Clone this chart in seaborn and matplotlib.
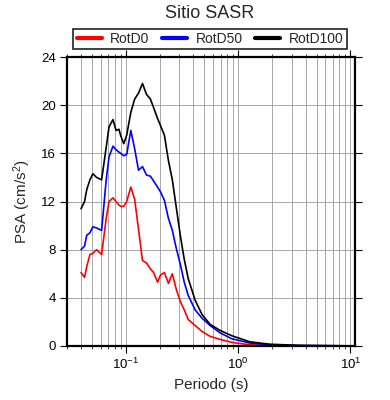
import numpy as np
import pandas as pd
import seaborn as sns
import matplotlib
matplotlib.use("Agg")
import matplotlib.pyplot as plt
from matplotlib.ticker import LogLocator, FixedLocator, NullFormatter

periods = [0.040, 0.043, 0.045, 0.048, 0.051, 0.055, 0.061, 0.067, 0.071, 0.077,
           0.082, 0.087, 0.090, 0.096, 0.102, 0.111, 0.120, 0.130, 0.141, 0.153,
           0.166, 0.177, 0.192, 0.204, 0.221, 0.240, 0.260, 0.282, 0.306, 0.332,
           0.360, 0.415, 0.479, 0.564, 0.690, 0.881, 1.27, 1.91, 3.52, 7.93, 10.0]

rotd0 = [6.1, 5.7, 6.6, 7.6, 7.7, 8.0, 7.6, 10.6, 12.0, 12.3,
         12.0, 11.7, 11.6, 11.6, 12.0, 13.2, 12.2, 9.7, 7.1, 6.9,
         6.4, 6.1, 5.3, 5.9, 6.1, 5.2, 6.0, 4.7, 3.7, 3.0,
         2.2, 1.7, 1.2, 0.8, 0.55, 0.3, 0.1, 0.05, 0.02, 0.01, 0.01]

rotd50 = [8.0, 8.3, 9.2, 9.4, 9.9, 9.8, 9.6, 13.8, 15.7, 16.6,
          16.3, 16.1, 16.0, 15.8, 15.9, 17.9, 16.4, 14.6, 14.9, 14.2,
          14.1, 13.7, 13.2, 12.8, 12.1, 10.6, 9.6, 8.1, 6.8, 5.3,
          4.2, 3.0, 2.3, 1.7, 1.1, 0.6, 0.25, 0.1, 0.04, 0.02, 0.01]

rotd100 = [11.4, 12.0, 13.0, 13.8, 14.3, 14.0, 13.8, 16.5, 18.2, 18.8,
           17.9, 18.0, 17.5, 16.8, 17.5, 19.4, 20.5, 21.0, 21.8, 20.9,
           20.5, 19.8, 18.9, 18.3, 17.5, 15.4, 13.8, 11.5, 9.2, 7.2,
           5.6, 3.8, 2.6, 1.8, 1.3, 0.85, 0.35, 0.15, 0.05, 0.02, 0.01]

series_names = ["RotD0", "RotD50", "RotD100"]
colors = ["#ff0000", "#0000ff", "#000000"]
yticks = [0, 4, 8, 12, 16, 20, 24]

df = pd.concat([
    pd.DataFrame({"Periodo": periods, "PSA": vals, "Serie": name})
    for name, vals in zip(series_names, [rotd0, rotd50, rotd100])
], ignore_index=True)

sns.set_style("white")
plt.rcParams["font.family"] = ["Liberation Sans", "DejaVu Sans"]
plt.rcParams["mathtext.fontset"] = "custom"
plt.rcParams["mathtext.rm"] = "Liberation Sans"
plt.rcParams["mathtext.it"] = "Liberation Sans:italic"

fig = plt.figure(figsize=(3.9, 4.0), dpi=100)
ax = fig.add_axes([67/390, 54/400, (355-67)/390, (346-57)/400])

sns.lineplot(data=df, x="Periodo", y="PSA", hue="Serie", palette=colors,
             hue_order=series_names, ax=ax, linewidth=1.2, legend=False,
             estimator=None, sort=False)

ax.set_xscale("log")
ax.set_xlim(0.03, 11)
ax.set_ylim(0, 24)
ax.yaxis.set_major_locator(FixedLocator(yticks))
ax.xaxis.set_major_locator(LogLocator(base=10, numticks=10))
ax.xaxis.set_minor_locator(LogLocator(base=10, subs=np.arange(2, 10), numticks=20))
ax.xaxis.set_minor_formatter(NullFormatter())

ax.grid(True, which="both", axis="x", color="#9a9a9a", linewidth=0.6)
ax.grid(True, which="major", axis="y", color="#9a9a9a", linewidth=0.6)
ax.set_axisbelow(True)

for s in ax.spines.values():
    s.set_color("black")
    s.set_linewidth(1.6)

ax.tick_params(axis="both", which="major", direction="out", length=5, width=0.8,
               left=True, bottom=True, top=True, right=True,
               labelsize=9.5, colors="black", pad=3)
ax.tick_params(axis="x", which="minor", direction="out", length=2.5, width=0.6,
               top=True, bottom=True)

ax.set_xlabel("Periodo (s)", fontsize=11, labelpad=4)
ax.set_ylabel("PSA (cm/s$^2$)", fontsize=11, labelpad=6)

handles = [plt.Line2D([], [], color=c, linewidth=3) for c in colors]
leg = fig.legend(handles, series_names, loc="center", ncol=3,
                 bbox_to_anchor=(210/390, 1 - 39/400), frameon=True,
                 fancybox=False, edgecolor="black", fontsize=10,
                 handlelength=1.8, handletextpad=0.6, columnspacing=0.9,
                 borderpad=0.25)
leg.get_frame().set_linewidth(1.3)

fig.text(210/390, 1 - 13/400, "Sitio SASR", ha="center", va="center", fontsize=13)

fig.savefig("out.png", dpi=100)
